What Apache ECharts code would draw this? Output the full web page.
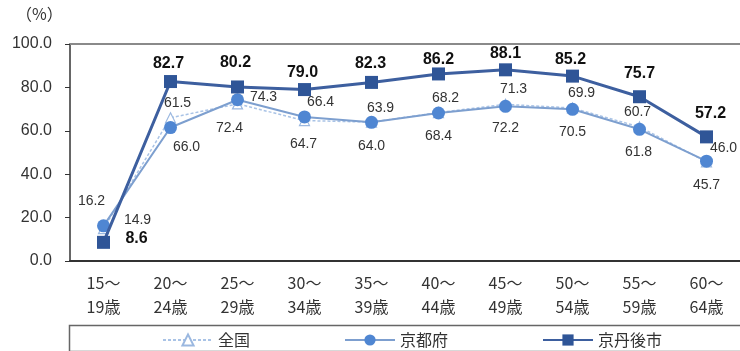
<!DOCTYPE html>
<html>
<head>
<meta charset="utf-8">
<script src="https://cdn.jsdelivr.net/npm/echarts@6/dist/echarts.min.js"></script>
<style>
  html, body { margin: 0; padding: 0; background: #fff; }
  #chart { width: 740px; height: 351px; }
</style>
</head>
<body>
<div id="chart"></div>
<script>
// Age groups (two-line axis labels)
const ageGroups = ['15～\n19歳', '20～\n24歳', '25～\n29歳', '30～\n34歳', '35～\n39歳',
                   '40～\n44歳', '45～\n49歳', '50～\n54歳', '55～\n59歳', '60～\n64歳'];

// Labour force participation rate (%)
const zenkoku   = [14.9, 66.0, 72.4, 64.7, 64.0, 68.4, 72.2, 70.5, 61.8, 45.7];
const kyotoFu   = [16.2, 61.5, 74.3, 66.4, 63.9, 68.2, 71.3, 69.9, 60.7, 46.0];
const kyotango  = [8.6, 82.7, 80.2, 79.0, 82.3, 86.2, 88.1, 85.2, 75.7, 57.2];

// Y axis ticks
const yTicks = [0, 20, 40, 60, 80, 100];

// Label nudges (pixels from each marker's centre) so the three label sets don't collide
const zenkokuShift  = [[34, -9], [16, 29], [-8, 24], [-1, 24], [0, 24], [0, 24], [0, 24], [0, 24], [-1, 25], [0, 23]];
const kyotoFuShift  = [[-12, -25], [7, -24], [26, -3], [16, -15], [9, -14], [7, -15], [8, -17], [9, -16], [-2, -17], [17, -13]];
const kyotangoShift = [[33, -4], [-2, -18], [-2, -24], [-2, -17], [-1, -19], [0, -14], [0, -16], [-2, -17], [0, -23], [4, -23]];

const numFont = '"Liberation Sans", Arial, sans-serif';
const jpFont = '"Noto Sans CJK JP", sans-serif';

function withLabels(values, shifts, labelStyle) {
  return values.map((v, i) => ({
    value: v,
    label: Object.assign({
      show: true,
      position: 'inside',
      align: 'center',
      verticalAlign: 'middle',
      offset: shifts[i],
      formatter: (p) => p.value.toFixed(1)
    }, labelStyle)
  }));
}

const chart = echarts.init(document.getElementById('chart'), null, { renderer: 'canvas' });

chart.setOption({
  animation: false,
  backgroundColor: '#fff',
  grid: { left: 70, top: 44, right: 0, bottom: 90, containLabel: false },
  graphic: [
    {
      type: 'text', left: 16, top: 6,
      style: { text: '（%）', font: '16px ' + jpFont, fill: '#333' }
    },
    {
      type: 'rect', left: 67, top: 323, z: -1,
      shape: { width: 674, height: 26 },
      style: { fill: 'none', stroke: '#666', lineWidth: 1.5 }
    }
  ],
  legend: {
    left: 157, top: 327,
    itemWidth: 50, itemHeight: 14, itemGap: 94,
    textStyle: { fontFamily: jpFont, fontSize: 16, color: '#333' },
    data: ['全国', '京都府', '京丹後市']
  },
  xAxis: [
    {
      type: 'category',
      data: ageGroups,
      boundaryGap: true,
      axisLine: { lineStyle: { color: '#333', width: 2 } },
      axisTick: { inside: true, length: 6, lineStyle: { color: '#333', width: 1.5 } },
      axisLabel: { fontFamily: jpFont, fontSize: 16, lineHeight: 24, margin: 10, color: '#333' }
    },
    {
      type: 'category',
      data: ageGroups,
      position: 'top',
      axisLine: { lineStyle: { color: '#8a8a8a', width: 2 } },
      axisTick: { show: false },
      axisLabel: { show: false }
    }
  ],
  yAxis: {
    type: 'value',
    min: yTicks[0],
    max: yTicks[yTicks.length - 1],
    interval: yTicks[1] - yTicks[0],
    axisLine: { show: true, lineStyle: { color: '#333', width: 1.5 } },
    axisTick: { show: true, length: 5, lineStyle: { color: '#333' } },
    splitLine: { show: false },
    axisLabel: {
      fontFamily: numFont, fontSize: 16, color: '#333', margin: 18,
      formatter: (v) => v.toFixed(1)
    }
  },
  series: [
    {
      name: '全国',
      type: 'line',
      z: 2,
      data: withLabels(zenkoku, zenkokuShift, { fontFamily: numFont, fontSize: 14, color: '#333' }),
      symbol: 'triangle',
      symbolSize: 10,
      lineStyle: { color: '#a9c3e6', width: 1.5, type: [3, 2] },
      itemStyle: { color: '#fff', borderColor: '#9bb8e0', borderWidth: 1.2 }
    },
    {
      name: '京都府',
      type: 'line',
      z: 3,
      data: withLabels(kyotoFu, kyotoFuShift, { fontFamily: numFont, fontSize: 14, color: '#333' }),
      symbol: 'circle',
      symbolSize: 13,
      lineStyle: { color: '#7d9fcf', width: 2 },
      itemStyle: { color: '#4f86d2', borderColor: '#4f86d2', borderWidth: 0 }
    },
    {
      name: '京丹後市',
      type: 'line',
      z: 4,
      data: withLabels(kyotango, kyotangoShift, { fontFamily: numFont, fontSize: 16, fontWeight: 'bold', color: '#111' }),
      symbol: 'rect',
      symbolSize: 13,
      lineStyle: { color: '#3d5f9f', width: 3 },
      itemStyle: { color: '#2f5597', borderColor: '#2f5597', borderWidth: 0 }
    }
  ]
});
</script>
</body>
</html>
